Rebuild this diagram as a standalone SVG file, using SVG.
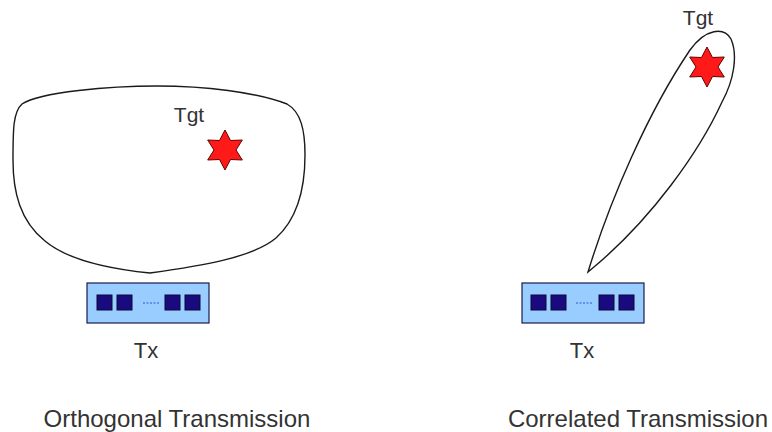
<svg xmlns="http://www.w3.org/2000/svg" width="772" height="432" viewBox="0 0 772 432">
<defs>
<style>
text{font-family:"Liberation Sans",Arial,sans-serif;fill:#333333}
.beam{fill:none;stroke:#1a1a1a;stroke-width:1.4}
.box{fill:#99ccff;stroke:#1a1a4d;stroke-width:1.2}
.el{fill:#1a0a80;stroke:#0a0a30;stroke-width:1}
.dots{stroke:#3355cc;stroke-width:1.2;stroke-dasharray:2 1.5}
.star{fill:#ff1a1a;stroke:#660000;stroke-width:1}
</style>
<path id="hexstar" d="M0,-20 L5.5,-9.5 L17.3,-10 L11,0 L17.3,10 L5.5,9.5 L0,20 L-5.5,9.5 L-17.3,10 L-11,0 L-17.3,-10 L-5.5,-9.5 Z"/>
</defs>
<rect width="772" height="432" fill="#ffffff"/>
<g id="beams">
<path id="beam-orthogonal" class="beam" d="M150,273 C120,270 70,262 45,241 C20,221 13,192 13,160 C13,130 13,112 22,104 C40,92 110,86 157,86 C205,86 255,92 287,104 C301,112 305,130 305,155 C305,190 296,220 276,238 C252,258 200,266 150,273 Z"/>
<path id="beam-correlated" class="beam" d="M588,272 C610,200 648,112 690,50 C706,28 724,27 731,39 C738,55 734,80 722,102 C700,150 652,220 588,272 Z"/>
</g>
<g id="tgt-left">
<text x="189" y="122" font-size="21" text-anchor="middle">Tgt</text>
<use href="#hexstar" class="star" transform="translate(225,150)"/>
</g>
<g id="tgt-right">
<text x="698" y="25" font-size="21" text-anchor="middle">Tgt</text>
<use href="#hexstar" class="star" transform="translate(707,67)"/>
</g>
<g id="tx-left">
<rect class="box" x="87" y="283" width="122" height="40"/>
<rect class="el" x="97" y="295" width="15" height="15"/>
<rect class="el" x="117" y="295" width="15" height="15"/>
<line class="dots" x1="143" y1="303" x2="160" y2="303"/>
<rect class="el" x="165" y="295" width="15" height="15"/>
<rect class="el" x="185" y="295" width="15" height="15"/>
<text x="146" y="358" font-size="22" text-anchor="middle">Tx</text>
</g>
<g id="tx-right">
<rect class="box" x="522" y="283" width="122" height="40"/>
<rect class="el" x="531" y="295" width="15" height="15"/>
<rect class="el" x="551" y="295" width="15" height="15"/>
<line class="dots" x1="576" y1="303" x2="593" y2="303"/>
<rect class="el" x="599" y="295" width="15" height="15"/>
<rect class="el" x="619" y="295" width="15" height="15"/>
<text x="582" y="358" font-size="22" text-anchor="middle">Tx</text>
</g>
<g id="label-left">
<text x="177" y="427" font-size="24" text-anchor="middle">Orthogonal Transmission</text>
</g>
<g id="label-right">
<text x="638" y="427" font-size="24" text-anchor="middle">Correlated Transmission</text>
</g>
</svg>
